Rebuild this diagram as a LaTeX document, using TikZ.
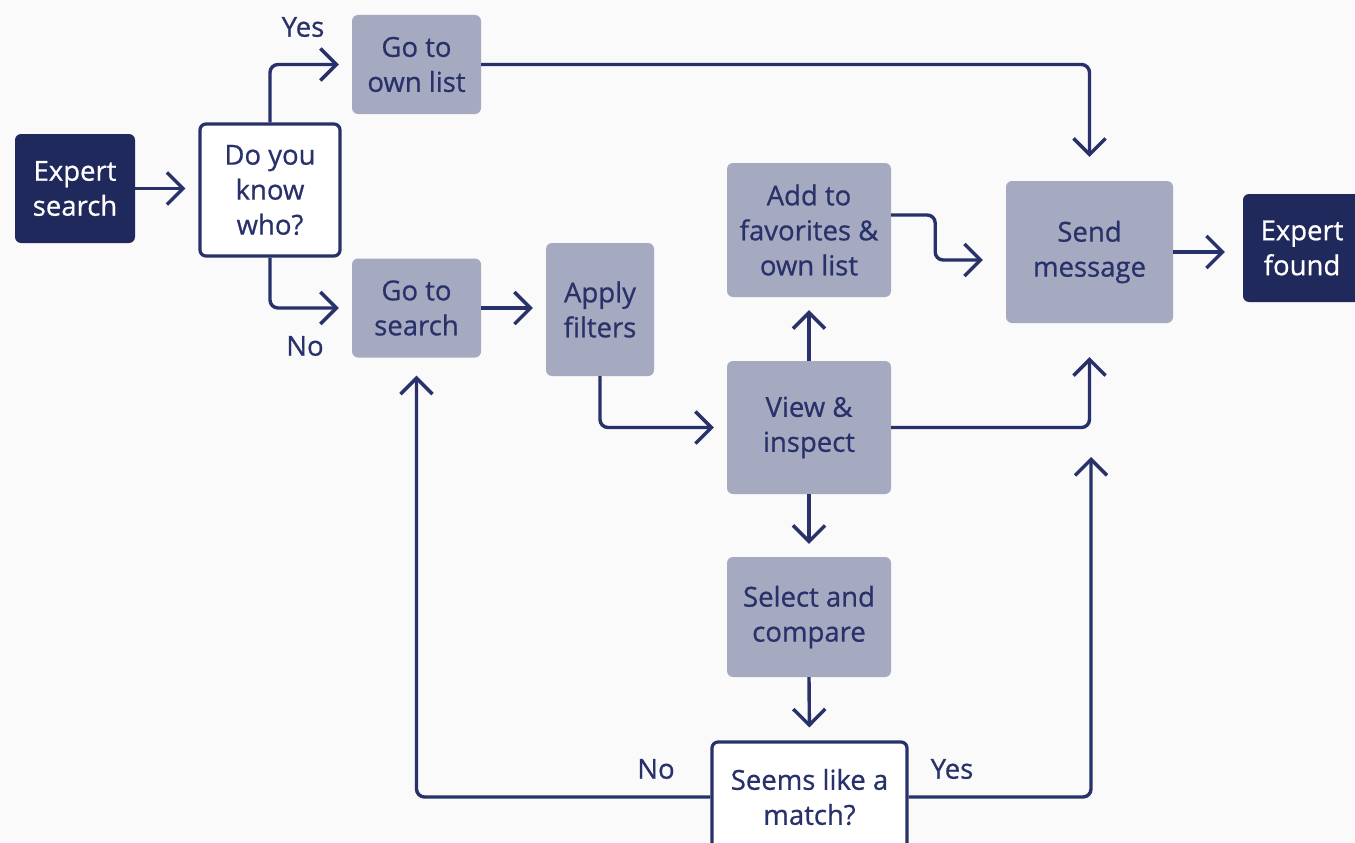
\documentclass[tikz,border=0pt]{standalone}
\usepackage{fontspec}
\setmainfont{Open Sans}
\newfontfamily\medfont{Open Sans}[FakeBold=0.7]
\usetikzlibrary{arrows.meta}
\definecolor{navy}{RGB}{40,49,106}
\definecolor{dark}{RGB}{31,41,92}
\definecolor{boxgray}{RGB}{166,170,192}
\definecolor{bg}{RGB}{250,250,250}
\tikzset{
  base/.style={rounded corners=6pt, align=center, font=\medfont\fontsize{27.5}{35}\selectfont, inner sep=0pt},
  proc/.style={base, fill=boxgray, text=navy},
  term/.style={base, fill=dark, text=white},
  decis/.style={base, draw=navy, line width=3.2pt, fill=white, text=navy},
  conn/.style={draw=navy, line width=3.4pt, rounded corners=8pt, shorten >=13pt,
    -{Straight Barb[length=16pt,width=32pt]}},
  lab/.style={text=navy, font=\medfont\fontsize{27.5}{30}\selectfont, inner sep=0pt}
}
\begin{document}
\begin{tikzpicture}[x=1pt,y=-1pt]
\fill[bg] (0,0) rectangle (1355,843);
\clip (0,0) rectangle (1355,843);
\useasboundingbox (0,0) rectangle (1355,843);
% nodes
\node[term, minimum width=120pt, minimum height=109pt] (es) at (75,188.5) {Expert\\search};
\node[decis, minimum width=140pt, minimum height=132pt] (dk) at (270,190) {Do you\\know\\who?};
\node[proc, minimum width=129pt, minimum height=99pt] (ol) at (416.5,64.5) {Go to\\own list};
\node[proc, minimum width=129pt, minimum height=99pt] (gs) at (416.5,308) {Go to\\search};
\node[proc, minimum width=108pt, minimum height=133pt] (af) at (600,309.5) {Apply\\filters};
\node[proc, minimum width=164pt, minimum height=134pt] (fav) at (809,230) {Add to\\favorites \&\\own list};
\node[proc, minimum width=164pt, minimum height=133pt] (vi) at (809,427.5) {View \&\\inspect};
\node[proc, minimum width=164pt, minimum height=120pt] (sc) at (809,617) {Select and\\compare};
\node[decis, minimum width=195pt, minimum height=110pt] (sm) at (809.5,797) {Seems like a\\match?};
\node[proc, minimum width=167pt, minimum height=142pt] (sd) at (1089.5,252) {Send\\message};
\node[term, minimum width=118pt, minimum height=108pt] (ef) at (1302,248) {Expert\\found};
% labels
\node[lab] (yes1) at (303,27) {Yes};
\node[lab] (no1) at (305,346) {No};
\node[lab] (no2) at (656,769) {No};
\node[lab] (yes2) at (952,769) {Yes};
\coordinate (sdin) at (1091,457);
% connectors
\draw[conn] (es.east) -- (es.east -| dk.west);
\draw[conn] (dk.north) |- (ol.west);
\draw[conn] (dk.south) |- (gs.west);
\draw[conn, shorten >=24pt] (ol.east) -| (sd.north);
\draw[conn] (gs.east) -- (gs.east -| af.west);
\draw[conn] (af.south) |- (vi.west);
\draw[conn] (vi.north) -- (fav.south);
\draw[conn, shorten >=23pt] ([yshift=15pt]fav.east) -- ++(44,0) |- ([yshift=-8pt]sd.west);
\draw[conn, shorten >=34pt] (vi.east) -| (sd.south);
\draw[conn] (vi.south) -- (sc.north);
\draw[conn] (sc.south) -- (sm.north);
\draw[conn, shorten >=18pt] (sm.west) -| (gs.south);
\draw[conn, shorten >=0pt] (sm.east) -| (sdin);
\draw[conn, shorten >=18pt] (sd.east) -- (sd.east -| ef.west);
\end{tikzpicture}
\end{document}
